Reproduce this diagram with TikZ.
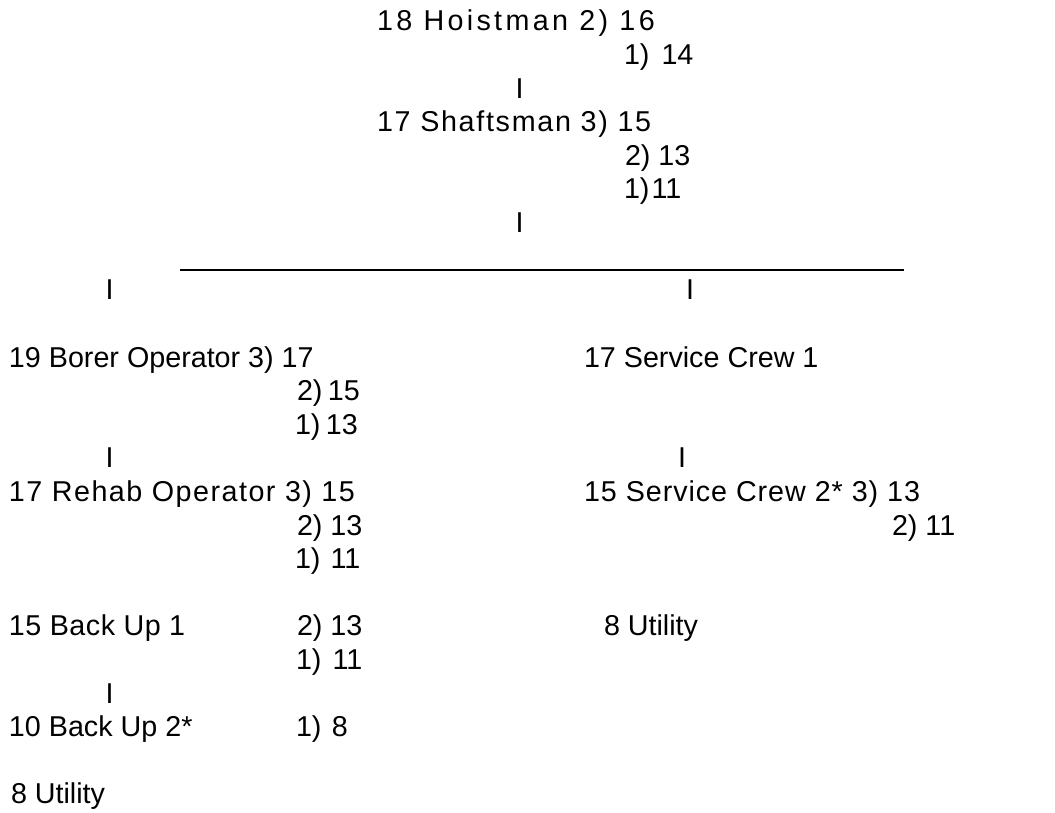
\documentclass[tikz,border=0pt]{standalone}
\usepackage{fontspec}
\setmainfont{Liberation Sans}
\newcommand{\basefont}{\fontsize{28.7}{34}\selectfont}
\begin{document}
\begin{tikzpicture}[x=1pt,y=1pt,
  txt/.style={anchor=base west, inner sep=0pt, outer sep=0pt, font=\basefont},
  bar/.style={anchor=base, inner sep=0pt, outer sep=0pt, font=\basefont},
  spaced/.style={font=\basefont\addfontfeature{LetterSpace=#1}},
  rule/.style={line width=2.8pt}]
\useasboundingbox (0,0) rectangle (1055,-813);
% top block
\node[txt, spaced=11.6] (hoist) at (377,-31) {18 Hoistman 2) 16};
\node[txt] (hoist1) at (624,-64.6) {1)\hspace{12pt}14};
\node[bar] (i1) at (519.5,-98.2) {I};
\node[txt, spaced=5.9] (shaft) at (377,-131.8) {17 Shaftsman 3) 15};
\node[txt] (shaft2) at (625,-165.4) {2) 13};
\node[txt] (shaft1) at (624,-199) {1)\hspace{2pt}11};
\node[bar] (i2) at (519.5,-232.6) {I};
% horizontal rule
\coordinate (hl) at (180,-270);
\coordinate (hr) at (904,-270);
\draw[rule] (hl) -- (hr);
\node[bar] (i3) at (109.5,-299.8) {I};
\node[bar] (i4) at (690,-299.8) {I};
% left column
\node[txt] (borer) at (9,-367) {19 Borer Operator 3) 17};
\node[txt] (borer2) at (297,-400.6) {2)\hspace{5.5pt}15};
\node[txt] (borer1) at (295,-434.2) {1)\hspace{5.5pt}13};
\node[bar] (i5) at (109.5,-467.8) {I};
\node[txt, spaced=5.2] (rehab) at (9,-501.4) {17 Rehab Operator 3) 15};
\node[txt] (rehab2) at (297,-535) {2) 13};
\node[txt] (rehab1) at (295,-568.6) {1)\hspace{10pt}11};
\node[txt, spaced=1.7] (back1) at (9,-635.8) {15 Back Up 1};
\node[txt] (back12) at (297,-635.8) {2) 13};
\node[txt] (back11) at (296,-669.4) {1)\hspace{11pt}11};
\node[bar] (i6) at (109.5,-703) {I};
\node[txt] (back2) at (9,-736.6) {10 Back Up 2*};
\node[txt] (back21) at (296,-736.6) {1)\hspace{10.5pt}8};
\node[txt] (util) at (11,-803.8) {8 Utility};
% right column
\node[txt] (serv1) at (584,-367) {17 Service Crew 1};
\node[bar] (i7) at (682,-467.8) {I};
\node[txt, spaced=3.3] (serv2) at (584,-501.4) {15 Service Crew 2* 3) 13};
\node[txt] (serv22) at (892,-535) {2) 11};
\node[txt] (util2) at (604,-635.8) {8 Utility};
\end{tikzpicture}
\end{document}
